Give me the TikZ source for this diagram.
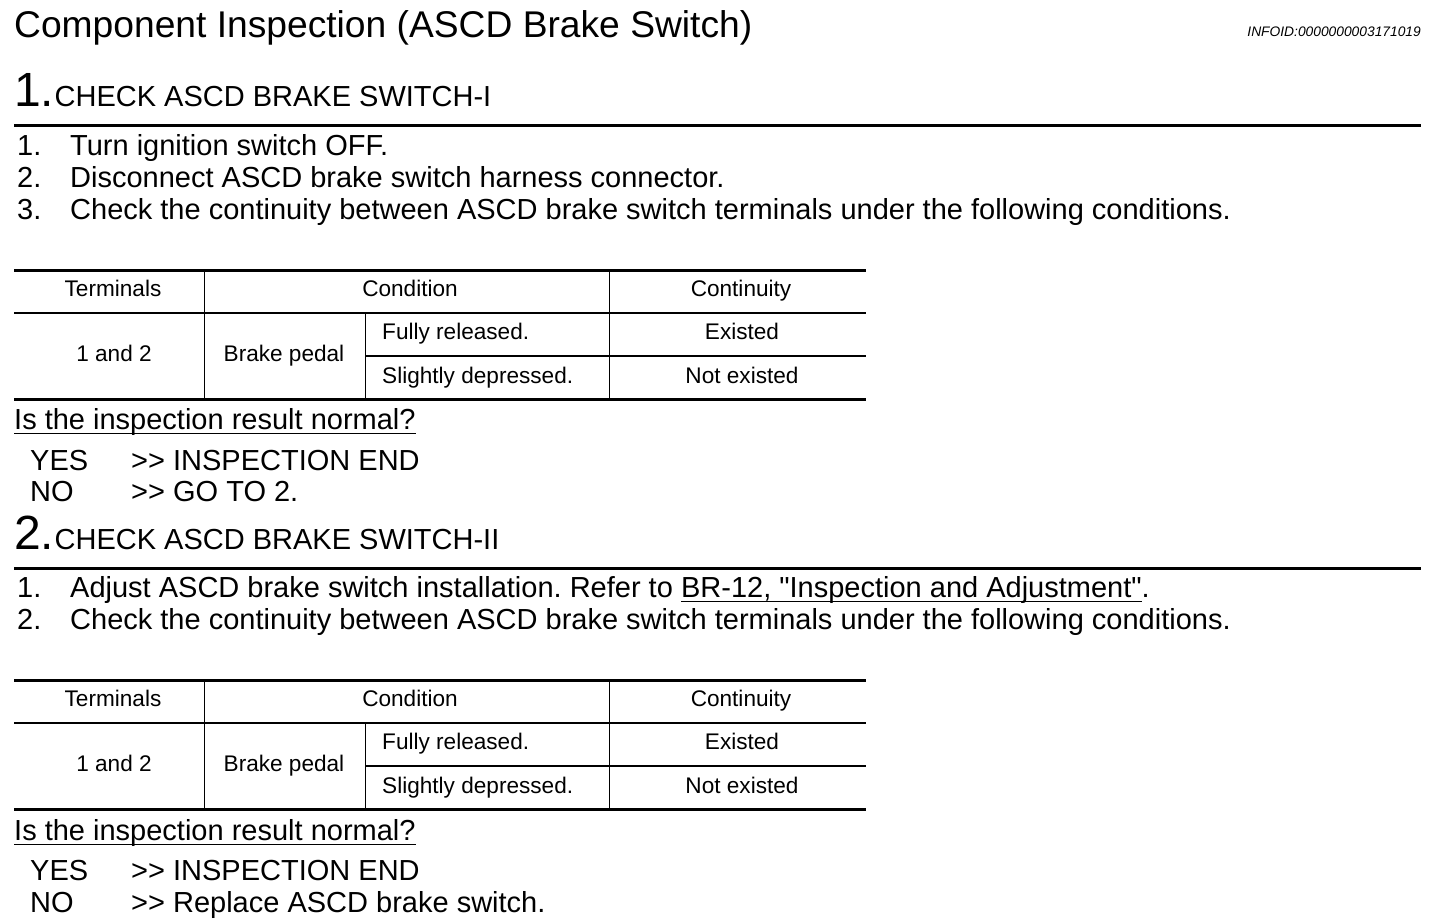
\documentclass[tikz,border=0pt]{standalone}
\usepackage{fontspec}
\setmainfont{Liberation Sans}[Ligatures=TeXOff]
\frenchspacing
\newcommand\lnk[1]{\setbox0\hbox{#1}\rlap{\vrule height -3.5pt depth 5pt width \wd0}\box0}

\begin{document}
\begin{tikzpicture}[x=1pt,y=-1pt,
  title/.style={anchor=base west,inner sep=0pt,font=\fontsize{37.2}{40}\selectfont},
  infoid/.style={anchor=base east,inner sep=0pt,font=\fontsize{13.8}{16}\selectfont\itshape},
  stepnum/.style={anchor=base west,inner sep=0pt,font=\fontsize{48}{50}\selectfont},
  steptxt/.style={anchor=base west,inner sep=0pt,font=\fontsize{29}{32}\selectfont},
  body/.style={anchor=base west,inner sep=0pt,font=\fontsize{29}{32}\selectfont},
  cell/.style={anchor=base,inner sep=0pt,font=\fontsize{22.6}{26}\selectfont},
  cellleft/.style={cell,anchor=base west},
  rule/.style={line width=3pt},
  thinrule/.style={line width=1.5pt},
  vrule/.style={line width=1pt}]
\useasboundingbox (0,0) rectangle (1456,922);

\node[title] at (14,37) (head) {Component Inspection (ASCD Brake Switch)};
\node[infoid] at (1421,36) (info) {INFOID:0000000003171019};

% step 1
\node[stepnum] at (14,106) (s1) {1.};
\node[steptxt] at (s1.base east) (s1t) {CHECK ASCD BRAKE SWITCH-I};
\draw[rule] (14,125) -- (1421,125);
\node[body] at (17,155) (a1n) {1.};
\node[body] at (70,155) (a1) {Turn ignition switch OFF.};
\node[body] at (17,187) (a2n) {2.};
\node[body] at (70,187) (a2) {Disconnect ASCD brake switch harness connector.};
\node[body] at (17,219) (a3n) {3.};
\node[body] at (70,219) (a3) {Check the continuity between ASCD brake switch terminals under the following conditions.};

% both tables
\foreach \n/\dy in {1/0,2/410}{
\begin{scope}[shift={(0,\dy)}]
 \draw[rule] (14,270) -- (866,270);
 \draw[thinrule] (14,313) -- (866,313);
 \draw[thinrule] (365,356) -- (866,356);
 \draw[rule] (14,399) -- (866,399);
 \draw[vrule] (204,270) -- (204,399);
 \draw[vrule] (365,313) -- (365,399);
 \draw[vrule] (609,270) -- (609,399);

 \node[cell] at (113,296) (term\n) {Terminals};
 \node[cell] at (410,296) (cond\n) {Condition};
 \node[cell] at (741,296) (cont\n) {Continuity};
 \node[cell] at (114,361) (pins\n) {1 and 2};
 \node[cell] at (284,361) (pedal\n) {Brake pedal};
 \node[cellleft] at (382,339) (rel\n) {Fully released.};
 \node[cellleft] at (382,383) (dep\n) {Slightly depressed.};
 \node[cell] at (742,339) (yes\n) {Existed};
 \node[cell] at (742,383) (no\n) {Not existed};
\end{scope}
}

\node[body] at (14,429) (q1) {\lnk{Is the inspection result normal?}};
\node[body] at (30,470) (y1) {YES};
\node[body] at (131,470) (y1t) {>> INSPECTION END};
\node[body] at (30,501) (n1) {NO};
\node[body] at (131,501) (n1t) {>> GO TO 2.};

% step 2
\node[stepnum] at (14,549) (s2) {2.};
\node[steptxt] at (s2.base east) (s2t) {CHECK ASCD BRAKE SWITCH-II};
\draw[rule] (14,568) -- (1421,568);
\node[body] at (17,597) (b1n) {1.};
\node[body] at (70,597) (b1) {Adjust ASCD brake switch installation. Refer to \lnk{BR-12, "Inspection and Adjustment"}.};
\node[body] at (17,629) (b2n) {2.};
\node[body] at (70,629) (b2) {Check the continuity between ASCD brake switch terminals under the following conditions.};

\node[body] at (14,840) (q2) {\lnk{Is the inspection result normal?}};
\node[body] at (30,880) (y2) {YES};
\node[body] at (131,880) (y2t) {>> INSPECTION END};
\node[body] at (30,912) (n2) {NO};
\node[body] at (131,912) (n2t) {>> Replace ASCD brake switch.};
\end{tikzpicture}
\end{document}
